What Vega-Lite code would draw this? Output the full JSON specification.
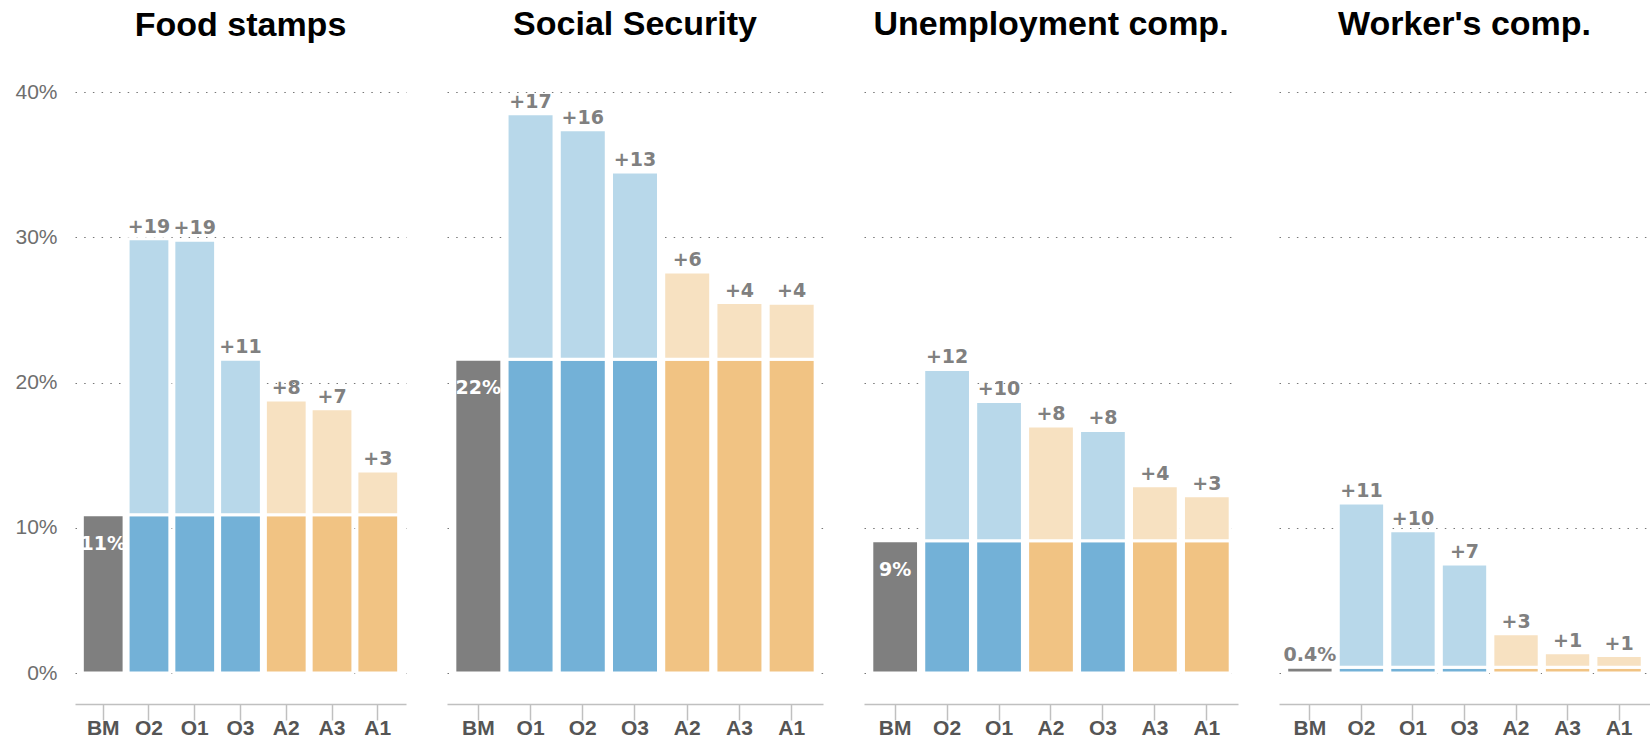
{
  "$schema": "https://vega.github.io/schema/vega-lite/v6.json",
  "padding": {"left": 14, "top": 8, "right": 0, "bottom": 0},
  "background": "white",
  "spacing": 41,
  "datasets": {
    "d": [
      {"panel": "Food stamps", "name": "BM", "grp": "BM", "base": 10.9, "total": 10.9, "incLabel": "", "baseLabel": "11%"},
      {"panel": "Food stamps", "name": "O2", "grp": "O", "base": 10.9, "total": 29.9, "incLabel": "+19", "baseLabel": ""},
      {"panel": "Food stamps", "name": "O1", "grp": "O", "base": 10.9, "total": 29.8, "incLabel": "+19", "baseLabel": ""},
      {"panel": "Food stamps", "name": "O3", "grp": "O", "base": 10.9, "total": 21.6, "incLabel": "+11", "baseLabel": ""},
      {"panel": "Food stamps", "name": "A2", "grp": "A", "base": 10.9, "total": 18.8, "incLabel": "+8", "baseLabel": ""},
      {"panel": "Food stamps", "name": "A3", "grp": "A", "base": 10.9, "total": 18.2, "incLabel": "+7", "baseLabel": ""},
      {"panel": "Food stamps", "name": "A1", "grp": "A", "base": 10.9, "total": 13.9, "incLabel": "+3", "baseLabel": ""},

      {"panel": "Social Security", "name": "BM", "grp": "BM", "base": 21.6, "total": 21.6, "incLabel": "", "baseLabel": "22%"},
      {"panel": "Social Security", "name": "O1", "grp": "O", "base": 21.6, "total": 38.5, "incLabel": "+17", "baseLabel": ""},
      {"panel": "Social Security", "name": "O2", "grp": "O", "base": 21.6, "total": 37.4, "incLabel": "+16", "baseLabel": ""},
      {"panel": "Social Security", "name": "O3", "grp": "O", "base": 21.6, "total": 34.5, "incLabel": "+13", "baseLabel": ""},
      {"panel": "Social Security", "name": "A2", "grp": "A", "base": 21.6, "total": 27.6, "incLabel": "+6", "baseLabel": ""},
      {"panel": "Social Security", "name": "A3", "grp": "A", "base": 21.6, "total": 25.5, "incLabel": "+4", "baseLabel": ""},
      {"panel": "Social Security", "name": "A1", "grp": "A", "base": 21.6, "total": 25.45, "incLabel": "+4", "baseLabel": ""},

      {"panel": "Unemployment comp.", "name": "BM", "grp": "BM", "base": 9.1, "total": 9.1, "incLabel": "", "baseLabel": "9%"},
      {"panel": "Unemployment comp.", "name": "O2", "grp": "O", "base": 9.1, "total": 20.9, "incLabel": "+12", "baseLabel": ""},
      {"panel": "Unemployment comp.", "name": "O1", "grp": "O", "base": 9.1, "total": 18.7, "incLabel": "+10", "baseLabel": ""},
      {"panel": "Unemployment comp.", "name": "A2", "grp": "A", "base": 9.1, "total": 17.0, "incLabel": "+8", "baseLabel": ""},
      {"panel": "Unemployment comp.", "name": "O3", "grp": "O", "base": 9.1, "total": 16.7, "incLabel": "+8", "baseLabel": ""},
      {"panel": "Unemployment comp.", "name": "A3", "grp": "A", "base": 9.1, "total": 12.9, "incLabel": "+4", "baseLabel": ""},
      {"panel": "Unemployment comp.", "name": "A1", "grp": "A", "base": 9.1, "total": 12.2, "incLabel": "+3", "baseLabel": ""},

      {"panel": "Worker's comp.", "name": "BM", "grp": "BM", "base": 0.4, "total": 0.4, "incLabel": "", "baseLabel": "0.4%"},
      {"panel": "Worker's comp.", "name": "O2", "grp": "O", "base": 0.4, "total": 11.7, "incLabel": "+11", "baseLabel": ""},
      {"panel": "Worker's comp.", "name": "O1", "grp": "O", "base": 0.4, "total": 9.8, "incLabel": "+10", "baseLabel": ""},
      {"panel": "Worker's comp.", "name": "O3", "grp": "O", "base": 0.4, "total": 7.5, "incLabel": "+7", "baseLabel": ""},
      {"panel": "Worker's comp.", "name": "A2", "grp": "A", "base": 0.4, "total": 2.7, "incLabel": "+3", "baseLabel": ""},
      {"panel": "Worker's comp.", "name": "A3", "grp": "A", "base": 0.4, "total": 1.4, "incLabel": "+1", "baseLabel": ""},
      {"panel": "Worker's comp.", "name": "A1", "grp": "A", "base": 0.4, "total": 1.2, "incLabel": "+1", "baseLabel": ""}
    ]
  },
  "hconcat": [
    {
      "title": {"text": "Food stamps", "offset": 38},
      "width": 331,
      "height": 581,
      "data": {"name": "d"},
      "transform": [{"filter": "datum.panel === 'Food stamps'"}],
      "encoding": {
        "x": {"field": "name", "type": "nominal", "title": null,
              "scale": {"domain": ["BM", "O2", "O1", "O3", "A2", "A3", "A1"], "paddingInner": 0.087, "paddingOuter": 0.16},
              "axis": {"labelAngle": 0}}
      },
      "layer": [
        {"mark": {"type": "bar", "stroke": "white", "strokeWidth": 3},
         "encoding": {
           "y": {"field": "base", "type": "quantitative", "title": null,
                 "scale": {"domain": [0, 40]},
                 "axis": {"values": [0, 10, 20, 30, 40], "labelExpr": "datum.value + '%'", "labels": true}},
           "color": {"condition": [{"test": "datum.grp === 'BM'", "value": "#7f7f7f"}, {"test": "datum.grp === 'O'", "value": "#73b1d7"}], "value": "#f1c383"}
         }},
        {"transform": [{"filter": "datum.grp !== 'BM'"}],
         "mark": {"type": "bar", "stroke": "white", "strokeWidth": 3},
         "encoding": {
           "y": {"field": "total", "type": "quantitative"},
           "y2": {"field": "base"},
           "color": {"condition": {"test": "datum.grp === 'O'", "value": "#b8d8ea"}, "value": "#f7e1c1"}
         }},
        {"transform": [{"filter": "datum.grp !== 'BM'"}],
         "mark": {"type": "text", "dy": -6, "baseline": "alphabetic", "font": "DejaVu Sans", "fontWeight": "bold", "fontSize": 19, "color": "#808080"},
         "encoding": {"y": {"field": "total", "type": "quantitative"}, "text": {"field": "incLabel"}}},
        {"transform": [{"filter": "datum.grp === 'BM' && datum.base >= 5"}],
         "mark": {"type": "text", "dy": 29, "baseline": "middle", "font": "DejaVu Sans", "fontWeight": "bold", "fontSize": 19, "color": "white"},
         "encoding": {"y": {"field": "base", "type": "quantitative"}, "text": {"field": "baseLabel"}}},
        {"transform": [{"filter": "datum.grp === 'BM' && datum.base < 5"}],
         "mark": {"type": "text", "dy": -6, "baseline": "alphabetic", "font": "DejaVu Sans", "fontWeight": "bold", "fontSize": 19, "color": "#808080"},
         "encoding": {"y": {"field": "base", "type": "quantitative"}, "text": {"field": "baseLabel"}}}
      ]
    },
    {
      "title": "Social Security",
      "width": 376,
      "height": 581,
      "data": {"name": "d"},
      "transform": [{"filter": "datum.panel === 'Social Security'"}],
      "encoding": {
        "x": {"field": "name", "type": "nominal", "title": null,
              "scale": {"domain": ["BM", "O1", "O2", "O3", "A2", "A3", "A1"], "paddingInner": 0.1, "paddingOuter": 0.15},
              "axis": {"labelAngle": 0}}
      },
      "layer": [
        {"mark": {"type": "bar", "stroke": "white", "strokeWidth": 3},
         "encoding": {
           "y": {"field": "base", "type": "quantitative", "title": null,
                 "scale": {"domain": [0, 40]},
                 "axis": {"values": [0, 10, 20, 30, 40], "labels": false}},
           "color": {"condition": [{"test": "datum.grp === 'BM'", "value": "#7f7f7f"}, {"test": "datum.grp === 'O'", "value": "#73b1d7"}], "value": "#f1c383"}
         }},
        {"transform": [{"filter": "datum.grp !== 'BM'"}],
         "mark": {"type": "bar", "stroke": "white", "strokeWidth": 3},
         "encoding": {
           "y": {"field": "total", "type": "quantitative"},
           "y2": {"field": "base"},
           "color": {"condition": {"test": "datum.grp === 'O'", "value": "#b8d8ea"}, "value": "#f7e1c1"}
         }},
        {"transform": [{"filter": "datum.grp !== 'BM'"}],
         "mark": {"type": "text", "dy": -6, "baseline": "alphabetic", "font": "DejaVu Sans", "fontWeight": "bold", "fontSize": 19, "color": "#808080"},
         "encoding": {"y": {"field": "total", "type": "quantitative"}, "text": {"field": "incLabel"}}},
        {"transform": [{"filter": "datum.grp === 'BM' && datum.base >= 5"}],
         "mark": {"type": "text", "dy": 29, "baseline": "middle", "font": "DejaVu Sans", "fontWeight": "bold", "fontSize": 19, "color": "white"},
         "encoding": {"y": {"field": "base", "type": "quantitative"}, "text": {"field": "baseLabel"}}},
        {"transform": [{"filter": "datum.grp === 'BM' && datum.base < 5"}],
         "mark": {"type": "text", "dy": -6, "baseline": "alphabetic", "font": "DejaVu Sans", "fontWeight": "bold", "fontSize": 19, "color": "#808080"},
         "encoding": {"y": {"field": "base", "type": "quantitative"}, "text": {"field": "baseLabel"}}}
      ]
    },
    {
      "title": "Unemployment comp.",
      "width": 374,
      "height": 581,
      "data": {"name": "d"},
      "transform": [{"filter": "datum.panel === 'Unemployment comp.'"}],
      "encoding": {
        "x": {"field": "name", "type": "nominal", "title": null,
              "scale": {"domain": ["BM", "O2", "O1", "A2", "O3", "A3", "A1"], "paddingInner": 0.1, "paddingOuter": 0.15},
              "axis": {"labelAngle": 0}}
      },
      "layer": [
        {"mark": {"type": "bar", "stroke": "white", "strokeWidth": 3},
         "encoding": {
           "y": {"field": "base", "type": "quantitative", "title": null,
                 "scale": {"domain": [0, 40]},
                 "axis": {"values": [0, 10, 20, 30, 40], "labels": false}},
           "color": {"condition": [{"test": "datum.grp === 'BM'", "value": "#7f7f7f"}, {"test": "datum.grp === 'O'", "value": "#73b1d7"}], "value": "#f1c383"}
         }},
        {"transform": [{"filter": "datum.grp !== 'BM'"}],
         "mark": {"type": "bar", "stroke": "white", "strokeWidth": 3},
         "encoding": {
           "y": {"field": "total", "type": "quantitative"},
           "y2": {"field": "base"},
           "color": {"condition": {"test": "datum.grp === 'O'", "value": "#b8d8ea"}, "value": "#f7e1c1"}
         }},
        {"transform": [{"filter": "datum.grp !== 'BM'"}],
         "mark": {"type": "text", "dy": -6, "baseline": "alphabetic", "font": "DejaVu Sans", "fontWeight": "bold", "fontSize": 19, "color": "#808080"},
         "encoding": {"y": {"field": "total", "type": "quantitative"}, "text": {"field": "incLabel"}}},
        {"transform": [{"filter": "datum.grp === 'BM' && datum.base >= 5"}],
         "mark": {"type": "text", "dy": 29, "baseline": "middle", "font": "DejaVu Sans", "fontWeight": "bold", "fontSize": 19, "color": "white"},
         "encoding": {"y": {"field": "base", "type": "quantitative"}, "text": {"field": "baseLabel"}}},
        {"transform": [{"filter": "datum.grp === 'BM' && datum.base < 5"}],
         "mark": {"type": "text", "dy": -6, "baseline": "alphabetic", "font": "DejaVu Sans", "fontWeight": "bold", "fontSize": 19, "color": "#808080"},
         "encoding": {"y": {"field": "base", "type": "quantitative"}, "text": {"field": "baseLabel"}}}
      ]
    },
    {
      "title": "Worker's comp.",
      "width": 371,
      "height": 581,
      "data": {"name": "d"},
      "transform": [{"filter": "datum.panel === \"Worker's comp.\""}],
      "encoding": {
        "x": {"field": "name", "type": "nominal", "title": null,
              "scale": {"domain": ["BM", "O2", "O1", "O3", "A2", "A3", "A1"], "paddingInner": 0.1, "paddingOuter": 0.15},
              "axis": {"labelAngle": 0}}
      },
      "layer": [
        {"mark": {"type": "bar", "stroke": "white", "strokeWidth": 3},
         "encoding": {
           "y": {"field": "base", "type": "quantitative", "title": null,
                 "scale": {"domain": [0, 40]},
                 "axis": {"values": [0, 10, 20, 30, 40], "labels": false}},
           "color": {"condition": [{"test": "datum.grp === 'BM'", "value": "#7f7f7f"}, {"test": "datum.grp === 'O'", "value": "#73b1d7"}], "value": "#f1c383"}
         }},
        {"transform": [{"filter": "datum.grp !== 'BM'"}],
         "mark": {"type": "bar", "stroke": "white", "strokeWidth": 3},
         "encoding": {
           "y": {"field": "total", "type": "quantitative"},
           "y2": {"field": "base"},
           "color": {"condition": {"test": "datum.grp === 'O'", "value": "#b8d8ea"}, "value": "#f7e1c1"}
         }},
        {"transform": [{"filter": "datum.grp !== 'BM'"}],
         "mark": {"type": "text", "dy": -6, "baseline": "alphabetic", "font": "DejaVu Sans", "fontWeight": "bold", "fontSize": 19, "color": "#808080"},
         "encoding": {"y": {"field": "total", "type": "quantitative"}, "text": {"field": "incLabel"}}},
        {"transform": [{"filter": "datum.grp === 'BM' && datum.base >= 5"}],
         "mark": {"type": "text", "dy": 29, "baseline": "middle", "font": "DejaVu Sans", "fontWeight": "bold", "fontSize": 19, "color": "white"},
         "encoding": {"y": {"field": "base", "type": "quantitative"}, "text": {"field": "baseLabel"}}},
        {"transform": [{"filter": "datum.grp === 'BM' && datum.base < 5"}],
         "mark": {"type": "text", "dy": -6, "baseline": "alphabetic", "font": "DejaVu Sans", "fontWeight": "bold", "fontSize": 19, "color": "#808080"},
         "encoding": {"y": {"field": "base", "type": "quantitative"}, "text": {"field": "baseLabel"}}}
      ]
    }
  ],
  "config": {
    "view": {"stroke": null},
    "title": {"font": "Liberation Sans", "fontSize": 34, "fontWeight": "bold", "color": "#000000", "anchor": "middle", "offset": 50},
    "axisX": {"offset": 31, "domainColor": "#c0c0c0", "domainWidth": 1.5, "tickColor": "#c0c0c0", "tickWidth": 1.5, "tickSize": 16, "labelPadding": -3, "labelFont": "Liberation Sans", "labelFontSize": 21, "labelFontWeight": "bold", "labelColor": "#555555", "grid": false},
    "axisY": {"domain": false, "ticks": false, "grid": true, "gridColor": "#777777", "gridDash": [1.5, 7.2], "gridWidth": 1, "labelPadding": 18, "labelFont": "Liberation Sans", "labelFontSize": 21, "labelColor": "#6e6e6e"}
  }
}
